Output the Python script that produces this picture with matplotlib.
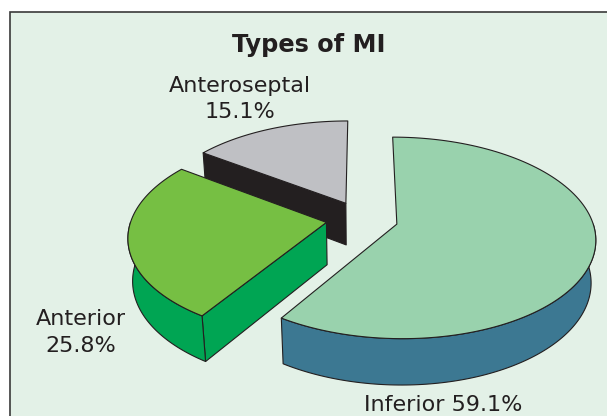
import numpy as np
import matplotlib
matplotlib.use("Agg")
import matplotlib.pyplot as plt
from matplotlib.patches import Polygon, Rectangle

# data
labels = ["Inferior", "Anterior", "Anteroseptal"]
shares = [59.1, 25.8, 15.1]
top_colors = ["#99d2ad", "#76bf43", "#bfc0c4"]
side_colors = ["#3c7892", "#00a553", "#231f20"]
title = "Types of MI"

# 3d look (pixel space)
CX, CY = 362, 219
F = 1244
DIST = 6.38
PHI = np.radians(30)
THICK = 0.255
EXPLODE = 0.185
EDGE = "#231f20"
TXT = "#231f20"


def project(x, y, z):
    depth = DIST + y * np.cos(PHI) - z * np.sin(PHI)
    sx = CX + F * x / depth
    sy = CY - F * (y * np.sin(PHI) + z * np.cos(PHI)) / depth
    return np.column_stack([sx, sy])


def rim(ox, oy, t0, t1, z, n=120):
    t = np.radians(np.linspace(t0, t1, n))
    return project(ox + np.cos(t), oy + np.sin(t), np.full(n, z))


fig = plt.figure(figsize=(6.07, 4.16), dpi=100)
ax = fig.add_axes([0, 0, 1, 1])
ax.set_xlim(0, 607)
ax.set_ylim(416, 0)
ax.axis("off")

ax.add_patch(Rectangle((10, 12), 620, 420, facecolor="#e3f1e7",
                       edgecolor="#3a3a3a", lw=1.2))

# slice angles, clockwise from 12 o'clock
slices = []
start = 90.0
for lab, s, tc, sc in zip(labels, shares, top_colors, side_colors):
    a0 = start
    a1 = start - s * 3.6
    mid = np.radians((a0 + a1) / 2)
    slices.append(dict(a0=a0, a1=a1, ox=EXPLODE * np.cos(mid),
                       oy=EXPLODE * np.sin(mid), top=tc, side=sc))
    start = a1

# back to front
for sl in sorted(slices, key=lambda d: -d["oy"]):
    a0, a1, ox, oy = sl["a0"], sl["a1"], sl["ox"], sl["oy"]
    apex_t = project(np.array([ox]), np.array([oy]), np.array([0.0]))
    apex_b = project(np.array([ox]), np.array([oy]), np.array([-THICK]))

    # flat cut faces
    for edge_ang, normal in ((a0, a0 + 90), (a1, a1 - 90)):
        if np.sin(np.radians(normal)) < -1e-6:
            r = np.radians(edge_ang)
            pt = project(np.array([ox + np.cos(r)]), np.array([oy + np.sin(r)]),
                         np.array([0.0]))
            pb = project(np.array([ox + np.cos(r)]), np.array([oy + np.sin(r)]),
                         np.array([-THICK]))
            quad = np.vstack([apex_t, pt, pb, apex_b])
            ax.add_patch(Polygon(quad, closed=True, facecolor=sl["side"],
                                 edgecolor=EDGE, lw=0.8, joinstyle="round"))

    # curved outer side, front half only
    lo, hi = min(a0, a1), max(a0, a1)
    for k in (-1, 0, 1):
        f0, f1 = -180 + 360 * k, 360 * k
        v0, v1 = max(lo, f0), min(hi, f1)
        if v1 > v0:
            top = rim(ox, oy, v0, v1, 0.0)
            bot = rim(ox, oy, v1, v0, -THICK)
            ax.add_patch(Polygon(np.vstack([top, bot]), closed=True,
                                 facecolor=sl["side"], edgecolor=EDGE,
                                 lw=0.8, joinstyle="round"))

    # top face
    face = np.vstack([apex_t, rim(ox, oy, a0, a1, 0.0)])
    ax.add_patch(Polygon(face, closed=True, facecolor=sl["top"],
                         edgecolor=EDGE, lw=0.8, joinstyle="round"))

ax.text(309, 52, title, ha="center", va="baseline", fontsize=17.3,
        fontweight="bold", color=TXT)

ax.text(240, 92, labels[2], ha="center", va="baseline", fontsize=16, color=TXT)
ax.text(240, 118, f"{shares[2]}%", ha="center", va="baseline", fontsize=16, color=TXT)
ax.text(81, 325, labels[1], ha="center", va="baseline", fontsize=16, color=TXT)
ax.text(81, 352, f"{shares[1]}%", ha="center", va="baseline", fontsize=16, color=TXT)
ax.text(443, 411, f"{labels[0]} {shares[0]}%", ha="center", va="baseline",
        fontsize=16, color=TXT)

fig.savefig("out.png", dpi=100)
